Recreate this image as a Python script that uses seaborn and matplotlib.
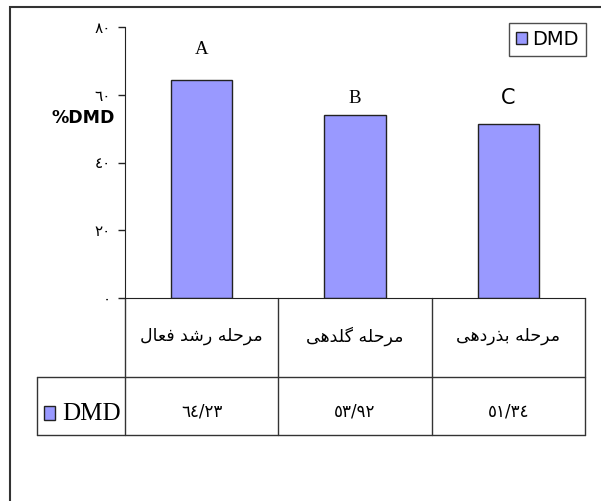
import numpy as np
import pandas as pd
import matplotlib
matplotlib.use("Agg")
import matplotlib.pyplot as plt
import matplotlib.transforms as mtransforms
from matplotlib.patches import Rectangle
import seaborn as sns

# Datos del grafico
etapas = ["مرحله رشد فعال", "مرحله گلدهی", "مرحله بذردهی"]
dmd = [64.23, 53.92, 51.34]
letras = ["A", "B", "C"]
letras_y = [73.5, 59.0, 59.0]
yticks = [0, 20, 40, 60, 80]

# matplotlib no une las letras arabes, asi que uso las formas de presentacion
FORMAS = {
    'م': ('\uFEE1', '\uFEE2', '\uFEE3', '\uFEE4'),
    'ح': ('\uFEA1', '\uFEA2', '\uFEA3', '\uFEA4'),
    'ل': ('\uFEDD', '\uFEDE', '\uFEDF', '\uFEE0'),
    'ه': ('\uFEE9', '\uFEEA', '\uFEEB', '\uFEEC'),
    'ش': ('\uFEB5', '\uFEB6', '\uFEB7', '\uFEB8'),
    'ف': ('\uFED1', '\uFED2', '\uFED3', '\uFED4'),
    'ع': ('\uFEC9', '\uFECA', '\uFECB', '\uFECC'),
    'گ': ('\uFB92', '\uFB93', '\uFB94', '\uFB95'),
    'ی': ('\uFBFC', '\uFBFD', '\uFBFE', '\uFBFF'),
    'ب': ('\uFE8F', '\uFE90', '\uFE91', '\uFE92'),
    'ر': ('\uFEAD', '\uFEAE', '\uFEAD', '\uFEAE'),
    'د': ('\uFEA9', '\uFEAA', '\uFEA9', '\uFEAA'),
    'ذ': ('\uFEAB', '\uFEAC', '\uFEAB', '\uFEAC'),
    'ا': ('\uFE8D', '\uFE8E', '\uFE8D', '\uFE8E'),
}
DOBLE = set("محلهشفعگیب")


def forma_arabe(texto):
    out = []
    for i, ch in enumerate(texto):
        if ch not in FORMAS:
            out.append(ch)
            continue
        prev = texto[i - 1] if i > 0 else ''
        nxt = texto[i + 1] if i + 1 < len(texto) else ''
        une_prev = prev in DOBLE
        une_next = ch in DOBLE and nxt in FORMAS
        iso, fin, ini, med = FORMAS[ch]
        if une_prev and une_next:
            out.append(med)
        elif une_prev:
            out.append(fin)
        elif une_next:
            out.append(ini)
        else:
            out.append(iso)
    return ''.join(reversed(out))


def digitos(s):
    return s.translate(str.maketrans("0123456789.", "٠١٢٣٤٥٦٧٨٩/"))


df = pd.DataFrame({"etapa": etapas, "dmd": dmd})

sns.set_style("white")
plt.rcParams['font.family'] = ['DejaVu Sans']
plt.rcParams['text.color'] = 'black'
plt.rcParams['axes.labelcolor'] = 'black'
plt.rcParams['ytick.color'] = 'black'

fig = plt.figure(figsize=(6.01, 5.01), dpi=100)
ax = fig.add_axes([125 / 601, 1 - 298 / 501, 460 / 601, 271 / 501])

sns.barplot(data=df, x="etapa", y="dmd", color="#9999FF", edgecolor="#222222",
            linewidth=1, width=0.4, saturation=1, label="DMD", ax=ax)

ax.set_xlim(-0.5, 2.5)
ax.set_ylim(0, 80)
ax.set_yticks(yticks)
ax.set_yticklabels([digitos(str(t)) for t in yticks], fontsize=11)
ax.set_xticks([])
ax.set_xlabel("")
ax.set_ylabel("%DMD", rotation=0, fontsize=12.5, fontweight="bold", labelpad=0)
ax.yaxis.set_label_coords(-0.09, 0.63)
ax.tick_params(axis="y", left=True, length=5, width=1, direction="out",
               color="#222222", labelcolor="black", pad=5)
for lado in ["top", "right"]:
    ax.spines[lado].set_visible(False)
ax.spines["left"].set_color("#222222")
ax.spines["bottom"].set_color("#222222")

# letras de significancia
for i, (l, yy) in enumerate(zip(letras, letras_y)):
    fam = "DejaVu Sans" if l == "C" else "Liberation Serif"
    ax.text(i, yy, l, ha="center", va="center", fontsize=15 if l == "C" else 13.5,
            family=fam, color="black")

# leyenda
leg = ax.legend(loc="upper right", bbox_to_anchor=(1.002, 1.015), borderaxespad=0,
                fancybox=False, edgecolor="#222222", fontsize=14, handlelength=0.55,
                handleheight=0.55, handletextpad=0.3, borderpad=0.35,
                labelcolor="black")
leg.get_frame().set_linewidth(1)

# tabla de datos debajo del grafico
tr = mtransforms.blended_transform_factory(ax.transData, ax.transAxes)
y_mid = -(377 - 298) / 271
y_bot = -(435 - 298) / 271
x_leg = -0.5 + (37 - 125) / (460 / 3)
kw = dict(color="#333333", lw=1, transform=tr, clip_on=False)
for xb in [-0.5, 0.5, 1.5, 2.5]:
    ax.plot([xb, xb], [0, y_bot], **kw)
ax.plot([x_leg, 2.5], [y_mid, y_mid], **kw)
ax.plot([x_leg, 2.5], [y_bot, y_bot], **kw)
ax.plot([x_leg, x_leg], [y_mid, y_bot], **kw)

for i, (e, v) in enumerate(zip(etapas, dmd)):
    ax.text(i, -0.14, forma_arabe(e), ha="center", va="center", fontsize=12.5,
            transform=tr, clip_on=False)
    ax.text(i, -0.42, digitos(f"{v:.2f}"), ha="center", va="center", fontsize=12,
            transform=tr, clip_on=False)

ax.add_patch(Rectangle((x_leg + 0.045, -0.452), 0.075, 0.053, transform=tr,
                       facecolor="#9999FF", edgecolor="#222222", lw=1, clip_on=False))
ax.text(x_leg + 0.165, -0.427, "DMD", ha="left", va="center", fontsize=18,
        family="Liberation Serif", transform=tr, clip_on=False)

# marco exterior
fig.patches.append(Rectangle((10 / 601, -0.1), 1.0, 1.1 - 7 / 501,
                             transform=fig.transFigure, fill=False,
                             edgecolor="#333333", lw=1.5))

fig.savefig("out.png", dpi=100)
